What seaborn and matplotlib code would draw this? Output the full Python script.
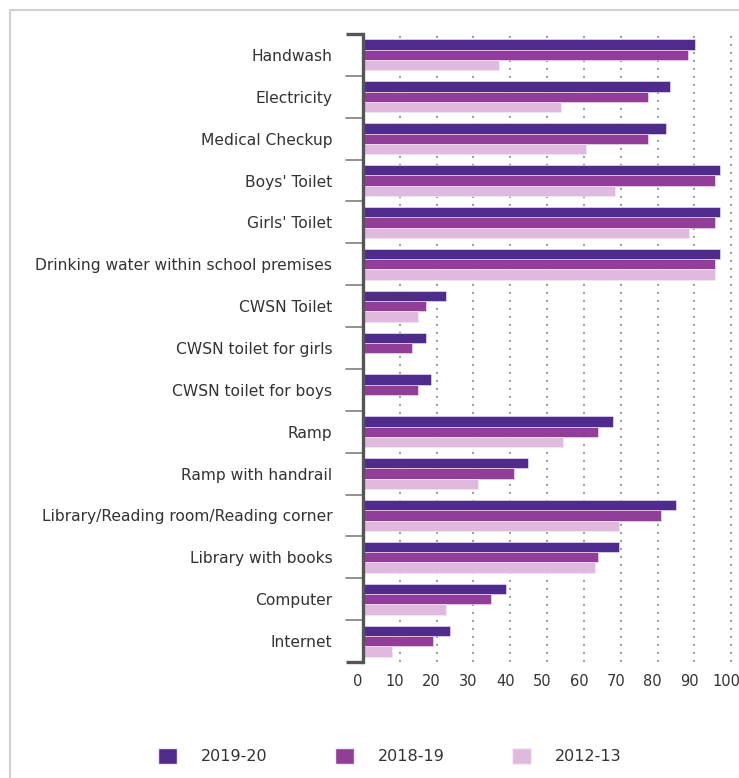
import numpy as np
import pandas as pd
import seaborn as sns
import matplotlib.pyplot as plt
import matplotlib.transforms as mtransforms
from matplotlib.patches import Rectangle, Patch

facilities = ["Handwash", "Electricity", "Medical Checkup", "Boys' Toilet", "Girls' Toilet",
              "Drinking water within school premises", "CWSN Toilet", "CWSN toilet for girls",
              "CWSN toilet for boys", "Ramp", "Ramp with handrail",
              "Library/Reading room/Reading corner", "Library with books", "Computer", "Internet"]
years = ["2019-20", "2018-19", "2012-13"]

v_2019 = [90.2, 83.4, 82.3, 96.9, 96.9, 96.9, 22.5, 17.0, 18.5, 68.0, 44.7, 84.9, 69.5, 38.7, 23.6]
v_2018 = [88.2, 77.4, 77.4, 95.7, 95.7, 95.7, 17.0, 13.2, 14.9, 63.8, 41.1, 80.9, 63.8, 34.7, 18.9]
v_2012 = [36.8, 53.7, 60.5, 68.4, 88.4, 95.7, 14.9, np.nan, np.nan, 54.4, 31.1, 69.4, 63.0, 22.5, 7.8]

colors = ["#4f2c8c", "#923d98", "#e0bade"]

df = pd.DataFrame({
    "facility": facilities * 3,
    "year": [years[0]] * 15 + [years[1]] * 15 + [years[2]] * 15,
    "value": v_2019 + v_2018 + v_2012,
})

sns.set_style("white")
plt.rcParams["font.family"] = ["DejaVu Sans"]

fig = plt.figure(figsize=(7.39, 7.78), dpi=100)
ax = fig.add_axes([363 / 739, 1 - 662 / 778, (735 - 363) / 739, (662 - 34) / 778])

# card outline behind the chart
fig.patches.append(Rectangle((10 / 739, -0.05), 1.1, 1 - 10 / 778 + 0.05, transform=fig.transFigure,
                             facecolor="white", edgecolor="#d0d0d0", linewidth=1.5, zorder=-5))

sns.barplot(data=df, y="facility", x="value", hue="year", orient="h", palette=colors,
            saturation=1, width=0.74, edgecolor="#f4ecf6", linewidth=0.4, ax=ax, legend=False)

ax.set_xlim(0, 101)
ax.set_ylim(14.5, -0.5)
ax.set_xticks(range(0, 101, 10))
ax.set_xlabel("")
ax.set_ylabel("")

# dotted vertical grid
for x in range(10, 101, 10):
    ax.axvline(x, color="#8f8f8f", linestyle=(0, (1.3, 3.5)), linewidth=1.2, zorder=0)

for s in ["top", "right", "bottom"]:
    ax.spines[s].set_visible(False)
ax.spines["left"].set_color("#555555")
ax.spines["left"].set_linewidth(2.4)

ax.tick_params(axis="y", length=0, pad=22, labelsize=11.2, labelcolor="#333333")
ax.tick_params(axis="x", length=0, pad=9, labelsize=10.5, labelcolor="#333333")
offset = mtransforms.ScaledTranslation(-5 / 100, 0, fig.dpi_scale_trans)
for lab in ax.get_xticklabels():
    lab.set_transform(lab.get_transform() + offset)

# group separator ticks on the left spine
for y in np.arange(0.5, 14.0, 1):
    ax.plot([-0.045, 0], [y, y], transform=ax.get_yaxis_transform(), color="#8a8a8a",
            linewidth=1.3, clip_on=False)
for y in [-0.5, 14.5]:
    ax.plot([-0.045, 0], [y, y], transform=ax.get_yaxis_transform(), color="#555555",
            linewidth=2.4, clip_on=False, solid_capstyle="butt")

handles = [Patch(facecolor=c, edgecolor="#f4ecf6") for c in colors]
fig.legend(handles, years, loc="center", bbox_to_anchor=(390 / 739, 1 - 756 / 778), ncol=3,
           frameon=False, fontsize=11.5, handlelength=1.2, handleheight=1.2, handletextpad=1.5,
           columnspacing=4.2, labelcolor="#333333")

fig.savefig("out.png", dpi=100)
